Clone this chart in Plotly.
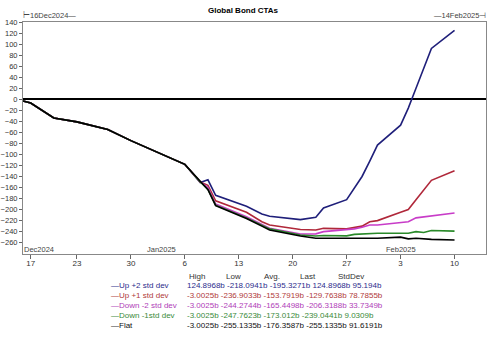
import plotly.graph_objects as go

dates = ["2024-12-16", "2024-12-17", "2024-12-20", "2024-12-23", "2024-12-27", "2024-12-30",
         "2025-01-06", "2025-01-08", "2025-01-09", "2025-01-10", "2025-01-14", "2025-01-16",
         "2025-01-17", "2025-01-21", "2025-01-23", "2025-01-24", "2025-01-27", "2025-01-28",
         "2025-01-29", "2025-01-30", "2025-01-31", "2025-02-03", "2025-02-04", "2025-02-05",
         "2025-02-06", "2025-02-07", "2025-02-10"]

common = [-3.0, -7, -34, -41, -55, -75, -118]

up2 = common + [-151, -146, -174, -194, -208, -212, -218.1, -214, -197, -182, -160, -140,
                -112, -83, -47, -16, 20, 56, 92, 124.9]
up1 = common + [-150, -156, -184, -205, -222, -228, -236, -236.9, -234, -235, -233, -230,
                -222, -220, -205, -200, -182, -165, -147, -129.8]
down2 = common + [-150, -160, -190, -213, -226, -234, -244.3, -244, -240, -237, -235, -232,
                  -228, -228, -224, -222, -215, -213, -211, -206.3]
down1 = common + [-150, -163, -192, -215, -229, -235, -246, -247.8, -247, -247.7, -245, -244,
                  -244, -243, -243, -243, -240, -241.5, -238, -239.0]
flat = common + [-149, -164, -193, -216, -230, -237, -248, -252, -252, -252, -251, -251,
                 -251, -252, -250, -253, -252, -253, -254, -255.1]

series_names = ["Up +2 std dev", "Up +1 std dev", "Down -2 std dev", "Down -1std dev", "Flat"]
series_values = [up2, up1, down2, down1, flat]
line_colors = ["#1f1f7a", "#b0283a", "#c83cc8", "#2a8a2a", "#000000"]
text_colors = ["#2c2c8c", "#b03a3a", "#b040b8", "#3a8a3a", "#111111"]

col_headers = ["High", "Low", "Avg.", "Last", "StdDev"]
high_vals = ["124.8968b", "-3.0025b", "-3.0025b", "-3.0025b", "-3.0025b"]
low_vals = ["-218.0941b", "-236.9033b", "-244.2744b", "-247.7623b", "-255.1335b"]
avg_vals = ["-195.3271b", "-153.7919b", "-165.4498b", "-173.012b", "-176.3587b"]
last_vals = ["124.8968b", "-129.7638b", "-206.3188b", "-239.0441b", "-255.1335b"]
std_vals = ["95.194b", "78.7855b", "33.7349b", "9.0309b", "91.6191b"]

x_tick_dates = ["2024-12-17", "2024-12-23", "2024-12-30", "2025-01-06", "2025-01-13",
                "2025-01-20", "2025-01-27", "2025-02-03", "2025-02-10"]
x_tick_labels = ["17", "23", "30", "6", "13", "20", "27", "3", "10"]
y_ticks = list(range(-260, 141, 20))

FONT = "Liberation Sans, Arial, sans-serif"

fig = go.Figure()
for name, vals, col in zip(series_names, series_values, line_colors):
    fig.add_trace(go.Scatter(x=dates, y=vals, mode="lines", name=name,
                             line=dict(color=col, width=1.6), showlegend=False))

# plot-area geometry in pixels (for annotation placement)
L, R, T, B = 23, 486, 22, 254
W, H = R - L, B - T


def px(x):
    return (x - L) / W


def py(y):
    return (B - y) / H


ann = []


def add_text(text, x, y, size=8, color="#333", anchor="left", xref="paper"):
    ann.append(dict(text=text, x=x, y=py(y), xref=xref, yref="paper", xanchor=anchor,
                    yanchor="middle", showarrow=False, borderpad=0,
                    font=dict(size=size, color=color, family=FONT)))


add_text("<b>Global Bond CTAs</b>", px(243), 10, size=8, color="#000", anchor="center")
add_text("⊢16Dec2024—", px(22), 16, size=7.5, color="#444", anchor="left")
add_text("—14Feb2025⊣", px(487), 16, size=7.5, color="#444", anchor="right")
for d, lbl in [("2024-12-16", "Dec2024"), ("2025-01-01", "Jan2025"), ("2025-02-01", "Feb2025")]:
    add_text(lbl, d, 249.5, size=7.5, color="#444", anchor="left", xref="x")

header_x = [188, 225, 263, 299, 337]
for hx, h in zip(header_x, col_headers):
    add_text(h, px(hx), 276, size=8, color="#333")

cols = [high_vals, low_vals, avg_vals, last_vals, std_vals]
for i, (name, tc) in enumerate(zip(series_names, text_colors)):
    ry = 285.5 + 10 * i
    add_text("—" + name, px(110), ry, size=8, color=tc)
    add_text(" ".join(c[i] for c in cols), px(186), ry, size=8, color=tc)

fig.update_layout(
    width=500, height=337,
    margin=dict(l=L, r=500 - R, t=T, b=337 - B),
    paper_bgcolor="white", plot_bgcolor="white",
    font=dict(family=FONT, size=8, color="#333"),
    annotations=ann,
    xaxis=dict(type="date", range=["2024-12-16", "2025-02-14 02:00"], tickvals=x_tick_dates,
               ticktext=x_tick_labels, ticks="outside", ticklen=4, tickcolor="#666",
               ticklabelstandoff=-3,
               showgrid=False, showline=True, linecolor="#888", linewidth=1, mirror=True,
               zeroline=False, automargin=False, tickfont=dict(size=8, color="#333")),
    yaxis=dict(range=[-280.5, 140], tickvals=y_ticks, ticksuffix="b", ticks="outside",
               ticklen=3, tickcolor="#666", showgrid=False, showline=True, linecolor="#888",
               linewidth=1, mirror=True, zeroline=True, zerolinecolor="#000", zerolinewidth=1.5,
               automargin=False, tickfont=dict(size=7.5, color="#333")),
)

fig.write_html("out.html")
